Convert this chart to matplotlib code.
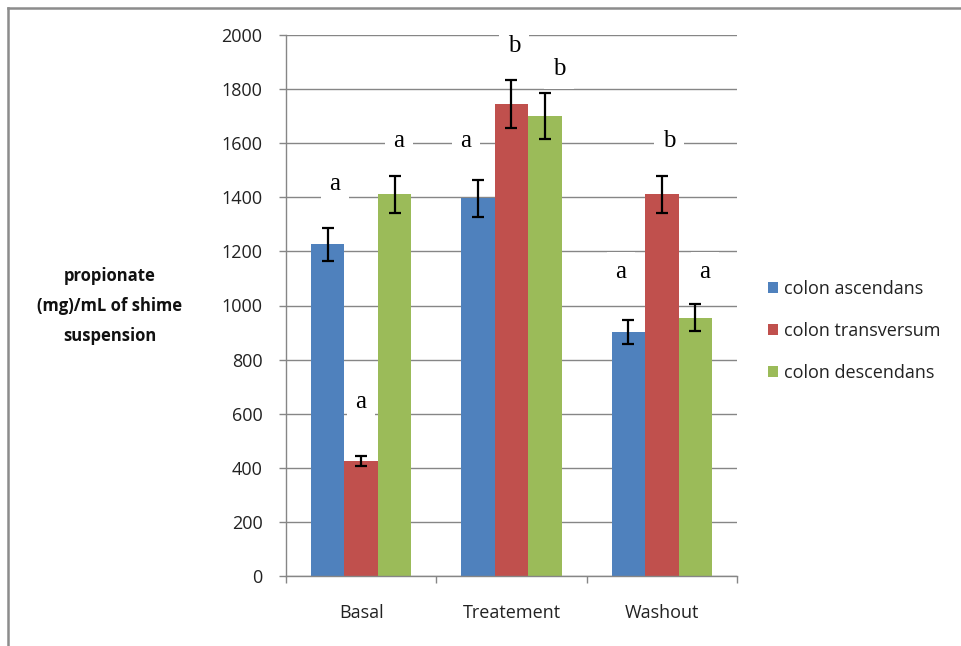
import matplotlib
matplotlib.use("Agg")
import matplotlib.pyplot as plt
from matplotlib.lines import Line2D
from matplotlib.patches import Patch
import numpy as np

# Propionate concentration per colon compartment and study phase
phases = ["Basal", "Treatement", "Washout"]
series_names = ["colon ascendans", "colon transversum", "colon descendans"]
ascendans = [1226, 1396, 901]
transversum = [425, 1745, 1411]
descendans = [1411, 1700, 955]
ascendans_err = [60, 68, 44]
transversum_err = [20, 88, 69]
descendans_err = [69, 85, 50]

# Significance letters for each bar (phase-major, series-minor)
letters = [["a", "a", "a"], ["a", "b", "b"], ["a", "b", "a"]]

y_ticks = [0, 200, 400, 600, 800, 1000, 1200, 1400, 1600, 1800, 2000]

colors = ["#4F81BD", "#C0504D", "#9BBB59"]
grey = "#868686"

# Letter placement (x in category units, baseline in data units)
letter_x = [[-0.174, -0.001, 0.252], [0.697, 1.017, 1.316], [1.728, 2.048, 2.287]]
letter_base = [[1427, 621, 1586], [1586, 1937, 1852], [1102, 1586, 1102]]

plt.rcParams["font.family"] = ["Open Sans", "DejaVu Sans"]

fig = plt.figure(figsize=(9.62, 6.46), dpi=100)
ax = fig.add_axes([286 / 962, 1 - 576 / 646, (737 - 286) / 962, (576 - 35) / 646])

values = [ascendans, transversum, descendans]
errors = [ascendans_err, transversum_err, descendans_err]
x = np.arange(len(phases))
width = 2 / 9
for i, (vals, errs) in enumerate(zip(values, errors)):
    ax.bar(x + (i - 1) * width, vals, width, color=colors[i], zorder=2,
           yerr=errs, error_kw=dict(ecolor="black", elinewidth=1.6,
                                    capsize=4, capthick=1.6, zorder=4))

ax.set_xlim(-0.5, len(phases) - 0.5)
ax.set_ylim(0, 2000)
ax.set_yticks(y_ticks)
ax.set_yticklabels([str(t) for t in y_ticks])
ax.yaxis.grid(True, color=grey, linewidth=1.0, zorder=0)
ax.set_axisbelow(True)

ax.set_xticks(x)
ax.set_xticklabels(phases)
ax.set_xticks(np.arange(-0.5, len(phases), 1.0), minor=True)
ax.tick_params(axis="x", which="major", length=0, pad=20, labelsize=13,
               labelcolor="#222222")
ax.tick_params(axis="x", which="minor", length=5, color=grey, width=1)
ax.tick_params(axis="y", length=5, color=grey, width=1, pad=12, labelsize=13,
               labelcolor="#222222")

for side in ["top", "right"]:
    ax.spines[side].set_visible(False)
for side in ["left", "bottom"]:
    ax.spines[side].set_color(grey)
    ax.spines[side].set_linewidth(1.0)

for gi in range(len(phases)):
    for si in range(len(series_names)):
        ax.text(letter_x[gi][si], letter_base[gi][si], letters[gi][si],
                family=["Liberation Serif", "DejaVu Serif"], fontsize=18,
                ha="center", va="baseline", zorder=3,
                bbox=dict(boxstyle="square,pad=0.35", facecolor="white",
                          edgecolor="none"))

fig.text(110 / 962, 1 - 306 / 646, "propionate\n(mg)/mL of shime\nsuspension",
         ha="center", va="center", fontsize=12, fontweight="bold",
         linespacing=1.85, color="#111111")

handles = [Patch(facecolor=c, edgecolor="none") for c in colors]
fig.legend(handles, series_names, loc="upper left",
           bbox_to_anchor=(768 / 962, 1 - 280 / 646), frameon=False,
           fontsize=13, handlelength=0.55, handleheight=0.55,
           handletextpad=0.35, labelspacing=1.33, borderpad=0,
           borderaxespad=0, labelcolor="#222222")

# Outer frame lines along the top and left edges
fig.add_artist(Line2D([8 / 962, 8 / 962], [0, 1 - 8 / 646], color="#8c8c8c",
                      linewidth=1.8, transform=fig.transFigure))
fig.add_artist(Line2D([8 / 962, 1], [1 - 8 / 646, 1 - 8 / 646], color="#8c8c8c",
                      linewidth=1.8, transform=fig.transFigure))

fig.savefig("out.png", dpi=100)
